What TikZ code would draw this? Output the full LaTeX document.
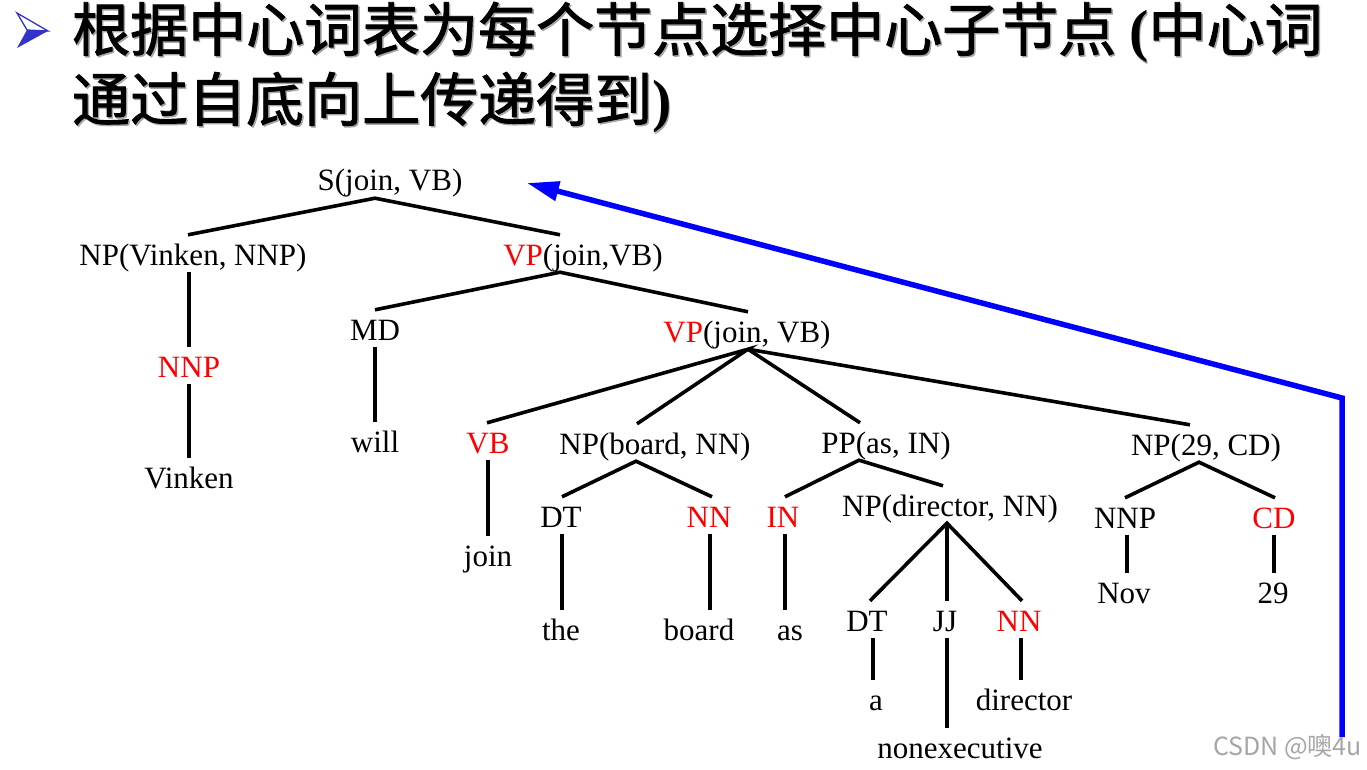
\documentclass[tikz,border=0pt]{standalone}
\usepackage{fontspec}
\setmainfont{Liberation Serif}
\newfontfamily\cjk{Noto Sans CJK SC}
\newfontfamily\cjkt[FakeBold=1.6]{Noto Sans CJK SC}
\usetikzlibrary{arrows.meta}
\definecolor{bulletblue}{RGB}{51,51,204}
\definecolor{headred}{RGB}{255,0,0}
\definecolor{arrowblue}{RGB}{0,0,255}
\newcommand{\hd}[1]{\textcolor{headred}{#1}}
\newcommand{\tp}[1]{{\rmfamily\bfseries #1}}
\begin{document}
\begin{tikzpicture}[x=1pt,y=-1pt,
  lbl/.style={font=\fontsize{31}{31}\selectfont, inner xsep=0pt, inner ysep=1pt,
              text height=29pt, text depth=6pt, anchor=base},
  redlbl/.style={lbl, text=headred},
  branch/.style={draw=black, line width=3.6pt},
  titletext/.style={font=\cjkt\fontsize{58}{58}\selectfont, inner sep=0pt, anchor=base west},
  shadowtext/.style={titletext, text=black!35},
  bluepath/.style={draw=arrowblue, line width=5.5pt, line join=miter,
                   -{Triangle[length=32pt,width=19pt]}}
]
\useasboundingbox (0,0) rectangle (1367,770);
\fill[white] (0,0) rectangle (1367,770);

% bullet
\coordinate (btop) at (17,13);
\coordinate (btip) at (48,31);
\coordinate (bbot) at (17,48);
\coordinate (bnotch) at (27,30);
\fill[bulletblue] (bnotch) -- (btip) -- (bbot) -- cycle;
\draw[bulletblue, line width=1.3pt, line join=miter] (bnotch) -- (btop) -- (btip) -- cycle;

% title with light shadow
\node[shadowtext] (t1s) at (73.5,52.5) {根据中心词表为每个节点选择中心子节点 \tp{(}中心词};
\node[shadowtext] (t2s) at (73.5,122.5) {通过自底向上传递得到\tp{)}};
\node[titletext] (t1) at (72,51) {根据中心词表为每个节点选择中心子节点 \tp{(}中心词};
\node[titletext] (t2) at (72,121) {通过自底向上传递得到\tp{)}};

% tree nodes
\node[lbl] (s) at (390,191) {S(join, VB)};
\node[lbl] (npv) at (193,265) {NP(Vinken, NNP)};
\node[lbl] (vp1) at (583,265) {\hd{VP}(join,VB)};
\node[redlbl] (nnp1) at (189,377) {NNP};
\node[lbl] (vinken) at (189,488) {Vinken};
\node[lbl] (md) at (375,340) {MD};
\node[lbl] (will) at (375,452) {will};
\node[lbl] (vp2) at (747,342) {\hd{VP}(join, VB)};
\node[redlbl] (vb) at (488,453) {VB};
\node[lbl] (join) at (488,566) {join};
\node[lbl] (npb) at (655,454) {NP(board, NN)};
\node[lbl] (pp) at (886,453) {PP(as, IN)};
\node[lbl] (np29) at (1206,455) {NP(29, CD)};
\node[lbl] (dt1) at (561,527) {DT};
\node[redlbl] (nn1) at (709,527) {NN};
\node[lbl] (the) at (561,640) {the};
\node[lbl] (board) at (699,640) {board};
\node[redlbl] (inn) at (783,527) {IN};
\node[lbl] (as) at (790,640) {as};
\node[lbl] (npd) at (950,516) {NP(director, NN)};
\node[lbl] (dtd) at (867,631) {DT};
\node[lbl] (jj) at (945,631) {JJ};
\node[redlbl] (nnd) at (1019,631) {NN};
\node[lbl] (a) at (876,710) {a};
\node[lbl] (nonexec) at (960,758) {nonexecutive};
\node[lbl] (director) at (1024,710) {director};
\node[lbl] (nnp2) at (1125,528) {NNP};
\node[redlbl] (cd) at (1274,528) {CD};
\node[lbl] (nov) at (1124,603) {Nov};
\node[lbl] (n29) at (1273,603) {29};

% branches
\draw[branch] ([xshift=-5pt]npv.north) -- ([xshift=-15pt]s.south) -- ([xshift=-23pt]vp1.north);
\draw[branch] ([xshift=-4pt]npv.south) -- (nnp1.north);
\draw[branch] (nnp1.south) -- (vinken.north);
\draw[branch] (md.north) -- ([xshift=-23pt]vp1.south) -- ([xshift=1pt]vp2.north);
\draw[branch] (md.south) -- (will.north);
\draw[branch] ([xshift=-1pt]vb.north) -- ([xshift=1pt]vp2.south) -- ([xshift=-18pt]npb.north);
\draw[branch] ([xshift=1pt]vp2.south) -- ([xshift=-26pt]pp.north);
\draw[branch] ([xshift=1pt]vp2.south) -- ([xshift=-16pt]np29.north);
\draw[branch] (vb.south) -- (join.north);
\draw[branch] ([xshift=1pt]dt1.north) -- ([xshift=-19pt]npb.south) -- ([xshift=3pt]nn1.north);
\draw[branch] ([xshift=1pt]dt1.south) -- ([xshift=1pt]dt1.south |- the.north);
\draw[branch] ([xshift=1pt]nn1.south) -- ([xshift=1pt]nn1.south |- board.north);
\draw[branch] ([xshift=2pt]inn.north) -- ([xshift=-27pt]pp.south) -- ([xshift=-7pt]npd.north);
\draw[branch] ([xshift=2pt]inn.south) -- ([xshift=2pt]inn.south |- as.north);
\draw[branch] ([xshift=3pt]dtd.north) -- ([xshift=-3pt]npd.south) -- ([xshift=3pt]nnd.north);
\draw[branch] ([xshift=-3pt]npd.south) -- ([xshift=2pt]jj.north);
\draw[branch] ([xshift=6pt]dtd.south) -- ([xshift=6pt]dtd.south |- a.north);
\draw[branch] ([xshift=2pt]jj.south) -- ([xshift=2pt]jj.south |- nonexec.north);
\draw[branch] ([xshift=2pt]nnd.south) -- ([xshift=2pt]nnd.south |- director.north);
\draw[branch] (nnp2.north) -- ([xshift=-7pt]np29.south) -- ([xshift=1pt]cd.north);
\draw[branch] ([xshift=2pt]nnp2.south) -- ([xshift=2pt]nnp2.south |- nov.north);
\draw[branch] (cd.south) -- (cd.south |- n29.north);

% blue arrow
\coordinate (bstart) at (1342,737);
\coordinate (bcorner) at (1342,398);
\coordinate (btipS) at (527,183);
\draw[bluepath] (bstart) -- (bcorner) -- (btipS);

% watermark
\node[font=\cjk\fontsize{25}{25}\selectfont, text=black!35, inner sep=0pt, anchor=base east] (wm) at (1362,755) {CSDN @噢4u};
\end{tikzpicture}
\end{document}
